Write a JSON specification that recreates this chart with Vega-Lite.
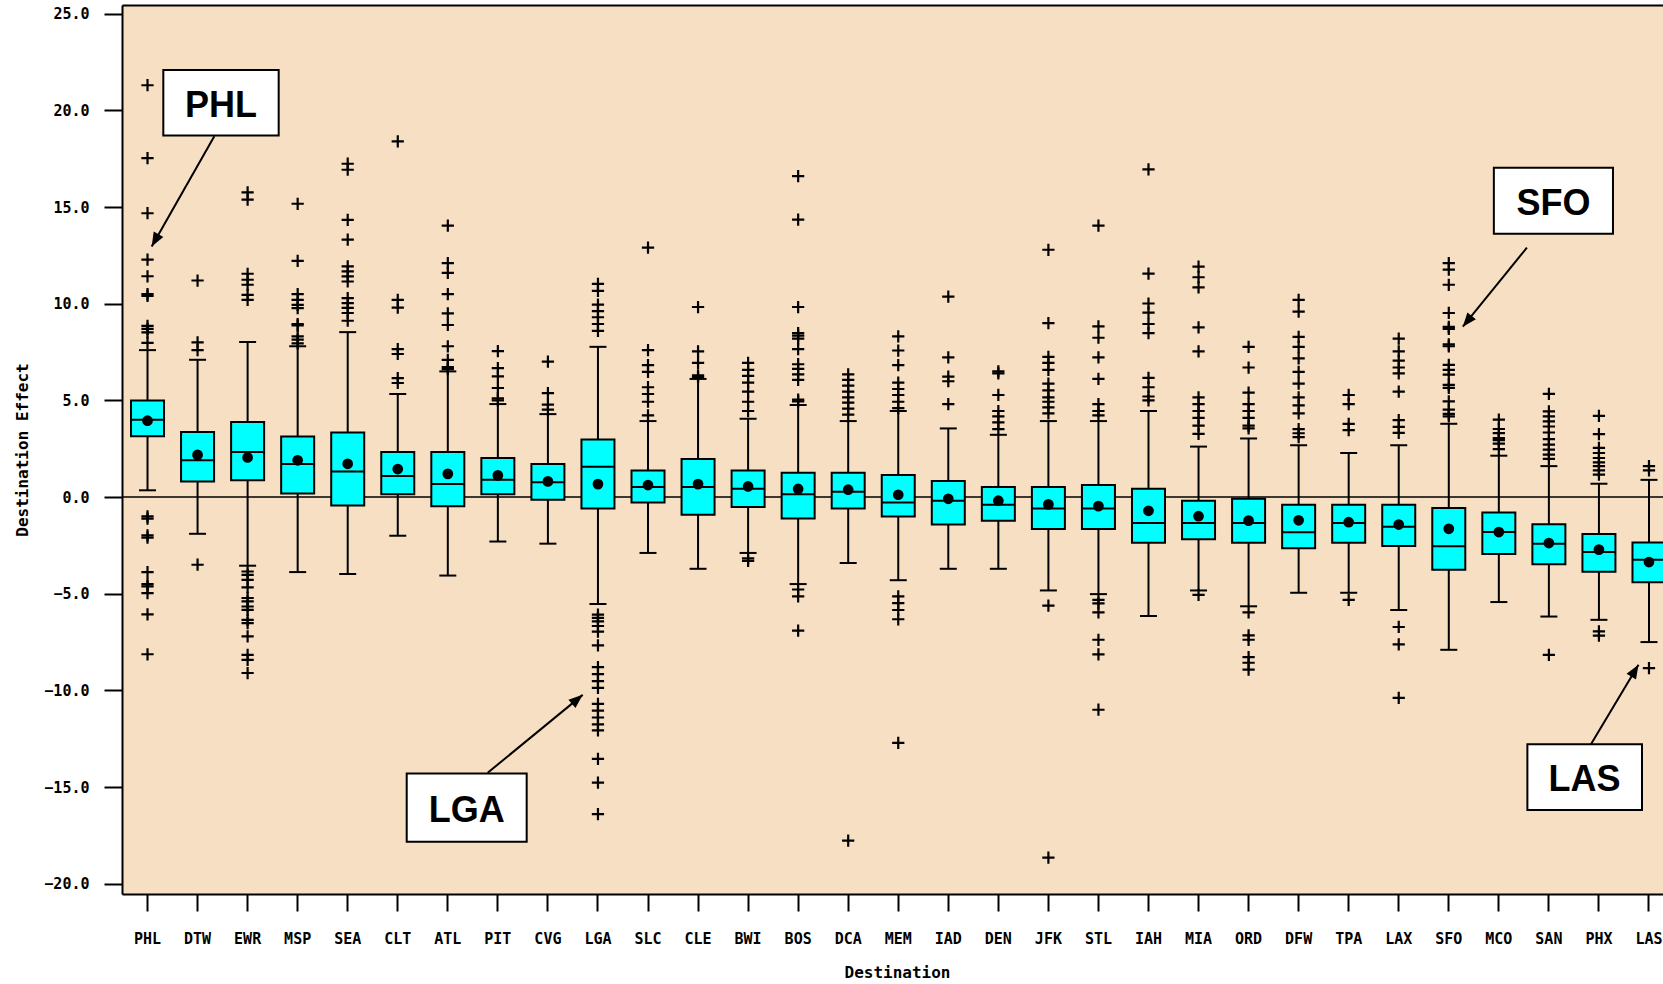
{
  "$schema": "https://vega.github.io/schema/vega-lite/v6.json",
  "width": 1541,
  "height": 889,
  "autosize": "none",
  "padding": {"left": 122, "top": 5, "right": 0, "bottom": 90},
  "background": "white",
  "config": {
    "view": {"fill": "#F7DFC3", "stroke": null},
    "axis": {"grid": false, "domainColor": "black", "tickColor": "black", "labelColor": "black", "titleColor": "black", "labelFont": "DejaVu Sans Mono", "titleFont": "DejaVu Sans Mono", "labelFontWeight": "bold", "titleFontWeight": "bold"}
  },
  "datasets": {
    "boxes": [
      {"dest": "PHL", "lo": 0.35, "q1": 3.15, "median": 4.0, "q3": 5.0, "hi": 7.6, "mean": 3.95},
      {"dest": "DTW", "lo": -1.9, "q1": 0.8, "median": 1.91, "q3": 3.36, "hi": 7.1, "mean": 2.18},
      {"dest": "EWR", "lo": -3.55, "q1": 0.87, "median": 2.33, "q3": 3.88, "hi": 8.02, "mean": 2.05},
      {"dest": "MSP", "lo": -3.88, "q1": 0.18, "median": 1.71, "q3": 3.13, "hi": 7.8, "mean": 1.9},
      {"dest": "SEA", "lo": -3.98, "q1": -0.43, "median": 1.32, "q3": 3.34, "hi": 8.53, "mean": 1.72},
      {"dest": "CLT", "lo": -2.0, "q1": 0.15, "median": 1.09, "q3": 2.33, "hi": 5.33, "mean": 1.45},
      {"dest": "ATL", "lo": -4.06, "q1": -0.48, "median": 0.67, "q3": 2.33, "hi": 6.5, "mean": 1.2},
      {"dest": "PIT", "lo": -2.3, "q1": 0.15, "median": 0.89, "q3": 2.02, "hi": 4.81, "mean": 1.12},
      {"dest": "CVG", "lo": -2.41, "q1": -0.14, "median": 0.77, "q3": 1.71, "hi": 4.29, "mean": 0.81},
      {"dest": "LGA", "lo": -5.53, "q1": -0.59, "median": 1.57, "q3": 2.98, "hi": 7.77, "mean": 0.67},
      {"dest": "SLC", "lo": -2.89, "q1": -0.28, "median": 0.52, "q3": 1.38, "hi": 3.93, "mean": 0.62},
      {"dest": "CLE", "lo": -3.71, "q1": -0.92, "median": 0.52, "q3": 1.97, "hi": 6.11, "mean": 0.67},
      {"dest": "BWI", "lo": -2.89, "q1": -0.52, "median": 0.43, "q3": 1.38, "hi": 4.05, "mean": 0.55},
      {"dest": "BOS", "lo": -4.5, "q1": -1.11, "median": 0.15, "q3": 1.26, "hi": 4.76, "mean": 0.42},
      {"dest": "DCA", "lo": -3.41, "q1": -0.59, "median": 0.27, "q3": 1.26, "hi": 3.93, "mean": 0.38},
      {"dest": "MEM", "lo": -4.3, "q1": -1.01, "median": -0.28, "q3": 1.14, "hi": 4.45, "mean": 0.12},
      {"dest": "IAD", "lo": -3.71, "q1": -1.42, "median": -0.19, "q3": 0.83, "hi": 3.55, "mean": -0.09},
      {"dest": "DEN", "lo": -3.71, "q1": -1.23, "median": -0.4, "q3": 0.52, "hi": 3.22, "mean": -0.19},
      {"dest": "JFK", "lo": -4.83, "q1": -1.65, "median": -0.59, "q3": 0.52, "hi": 3.93, "mean": -0.38},
      {"dest": "STL", "lo": -5.02, "q1": -1.65, "median": -0.59, "q3": 0.62, "hi": 3.93, "mean": -0.47},
      {"dest": "IAH", "lo": -6.15, "q1": -2.36, "median": -1.34, "q3": 0.43, "hi": 4.45, "mean": -0.71},
      {"dest": "MIA", "lo": -4.83, "q1": -2.18, "median": -1.34, "q3": -0.19, "hi": 2.61, "mean": -0.99},
      {"dest": "ORD", "lo": -5.65, "q1": -2.36, "median": -1.34, "q3": -0.09, "hi": 3.03, "mean": -1.22},
      {"dest": "DFW", "lo": -4.95, "q1": -2.65, "median": -1.82, "q3": -0.4, "hi": 2.68, "mean": -1.2},
      {"dest": "TPA", "lo": -4.95, "q1": -2.36, "median": -1.34, "q3": -0.4, "hi": 2.28, "mean": -1.3},
      {"dest": "LAX", "lo": -5.84, "q1": -2.53, "median": -1.53, "q3": -0.4, "hi": 2.68, "mean": -1.42},
      {"dest": "SFO", "lo": -7.9, "q1": -3.76, "median": -2.55, "q3": -0.57, "hi": 3.79, "mean": -1.64},
      {"dest": "MCO", "lo": -5.43, "q1": -2.95, "median": -1.81, "q3": -0.8, "hi": 2.14, "mean": -1.81},
      {"dest": "SAN", "lo": -6.18, "q1": -3.47, "median": -2.42, "q3": -1.4, "hi": 1.6, "mean": -2.38},
      {"dest": "PHX", "lo": -6.35, "q1": -3.86, "median": -2.84, "q3": -1.91, "hi": 0.69, "mean": -2.72},
      {"dest": "LAS", "lo": -7.5, "q1": -4.4, "median": -3.24, "q3": -2.35, "hi": 0.89, "mean": -3.36}
    ],
    "outliers": [
      {"dest": "PHL", "value": 21.3}, {"dest": "PHL", "value": 17.53}, {"dest": "PHL", "value": 14.68}, {"dest": "PHL", "value": 12.28}, {"dest": "PHL", "value": 11.42}, {"dest": "PHL", "value": 10.5}, {"dest": "PHL", "value": 10.4}, {"dest": "PHL", "value": 8.85}, {"dest": "PHL", "value": 8.7}, {"dest": "PHL", "value": 8.52}, {"dest": "PHL", "value": 7.97}, {"dest": "PHL", "value": -1.0}, {"dest": "PHL", "value": -1.12}, {"dest": "PHL", "value": -1.98}, {"dest": "PHL", "value": -2.1}, {"dest": "PHL", "value": -3.88}, {"dest": "PHL", "value": -4.5}, {"dest": "PHL", "value": -4.62}, {"dest": "PHL", "value": -4.97}, {"dest": "PHL", "value": -6.07}, {"dest": "PHL", "value": -8.13},
      {"dest": "DTW", "value": 11.2}, {"dest": "DTW", "value": 8.0}, {"dest": "DTW", "value": 7.6}, {"dest": "DTW", "value": -3.5},
      {"dest": "EWR", "value": 15.76}, {"dest": "EWR", "value": 15.38}, {"dest": "EWR", "value": 11.55}, {"dest": "EWR", "value": 11.24}, {"dest": "EWR", "value": 10.98}, {"dest": "EWR", "value": 10.46}, {"dest": "EWR", "value": 10.2}, {"dest": "EWR", "value": -3.85}, {"dest": "EWR", "value": -4.02}, {"dest": "EWR", "value": -4.28}, {"dest": "EWR", "value": -4.67}, {"dest": "EWR", "value": -5.22}, {"dest": "EWR", "value": -5.4}, {"dest": "EWR", "value": -5.66}, {"dest": "EWR", "value": -5.83}, {"dest": "EWR", "value": -6.35}, {"dest": "EWR", "value": -6.52}, {"dest": "EWR", "value": -7.21}, {"dest": "EWR", "value": -8.16}, {"dest": "EWR", "value": -8.42}, {"dest": "EWR", "value": -9.1},
      {"dest": "MSP", "value": 15.17}, {"dest": "MSP", "value": 12.22}, {"dest": "MSP", "value": 10.5}, {"dest": "MSP", "value": 10.2}, {"dest": "MSP", "value": 9.94}, {"dest": "MSP", "value": 9.77}, {"dest": "MSP", "value": 8.95}, {"dest": "MSP", "value": 8.88}, {"dest": "MSP", "value": 8.31}, {"dest": "MSP", "value": 8.14}, {"dest": "MSP", "value": 7.95},
      {"dest": "SEA", "value": 17.24}, {"dest": "SEA", "value": 16.93}, {"dest": "SEA", "value": 14.34}, {"dest": "SEA", "value": 13.31}, {"dest": "SEA", "value": 11.93}, {"dest": "SEA", "value": 11.67}, {"dest": "SEA", "value": 11.41}, {"dest": "SEA", "value": 11.15}, {"dest": "SEA", "value": 10.29}, {"dest": "SEA", "value": 10.03}, {"dest": "SEA", "value": 9.78}, {"dest": "SEA", "value": 9.52}, {"dest": "SEA", "value": 9.12},
      {"dest": "CLT", "value": 18.4}, {"dest": "CLT", "value": 10.2}, {"dest": "CLT", "value": 9.8}, {"dest": "CLT", "value": 7.65}, {"dest": "CLT", "value": 7.4}, {"dest": "CLT", "value": 6.15}, {"dest": "CLT", "value": 5.9},
      {"dest": "ATL", "value": 14.04}, {"dest": "ATL", "value": 12.1}, {"dest": "ATL", "value": 11.6}, {"dest": "ATL", "value": 10.5}, {"dest": "ATL", "value": 9.5}, {"dest": "ATL", "value": 8.9}, {"dest": "ATL", "value": 7.8}, {"dest": "ATL", "value": 7.1}, {"dest": "ATL", "value": 6.72}, {"dest": "ATL", "value": 6.62},
      {"dest": "PIT", "value": 7.55}, {"dest": "PIT", "value": 6.67}, {"dest": "PIT", "value": 6.24}, {"dest": "PIT", "value": 5.64}, {"dest": "PIT", "value": 5.1}, {"dest": "PIT", "value": 5.0},
      {"dest": "CVG", "value": 7.0}, {"dest": "CVG", "value": 5.38}, {"dest": "CVG", "value": 4.78}, {"dest": "CVG", "value": 4.52},
      {"dest": "LGA", "value": 11.03}, {"dest": "LGA", "value": 10.66}, {"dest": "LGA", "value": 9.95}, {"dest": "LGA", "value": 9.62}, {"dest": "LGA", "value": 9.3}, {"dest": "LGA", "value": 8.95}, {"dest": "LGA", "value": 8.6}, {"dest": "LGA", "value": -6.08}, {"dest": "LGA", "value": -6.25}, {"dest": "LGA", "value": -6.43}, {"dest": "LGA", "value": -6.67}, {"dest": "LGA", "value": -6.96}, {"dest": "LGA", "value": -7.67}, {"dest": "LGA", "value": -8.8}, {"dest": "LGA", "value": -9.16}, {"dest": "LGA", "value": -9.52}, {"dest": "LGA", "value": -9.87}, {"dest": "LGA", "value": -10.7}, {"dest": "LGA", "value": -11.05}, {"dest": "LGA", "value": -11.4}, {"dest": "LGA", "value": -11.76}, {"dest": "LGA", "value": -12.07}, {"dest": "LGA", "value": -13.54}, {"dest": "LGA", "value": -14.77}, {"dest": "LGA", "value": -16.4},
      {"dest": "SLC", "value": 12.9}, {"dest": "SLC", "value": 7.6}, {"dest": "SLC", "value": 6.82}, {"dest": "SLC", "value": 6.47}, {"dest": "SLC", "value": 5.68}, {"dest": "SLC", "value": 5.33}, {"dest": "SLC", "value": 4.93}, {"dest": "SLC", "value": 4.22},
      {"dest": "CLE", "value": 9.83}, {"dest": "CLE", "value": 7.53}, {"dest": "CLE", "value": 6.94}, {"dest": "CLE", "value": 6.3}, {"dest": "CLE", "value": 6.2},
      {"dest": "BWI", "value": 6.94}, {"dest": "BWI", "value": 6.58}, {"dest": "BWI", "value": 6.27}, {"dest": "BWI", "value": 5.92}, {"dest": "BWI", "value": 5.45}, {"dest": "BWI", "value": 4.93}, {"dest": "BWI", "value": 4.45}, {"dest": "BWI", "value": -3.17}, {"dest": "BWI", "value": -3.3},
      {"dest": "BOS", "value": 16.6}, {"dest": "BOS", "value": 14.35}, {"dest": "BOS", "value": 9.83}, {"dest": "BOS", "value": 8.48}, {"dest": "BOS", "value": 8.35}, {"dest": "BOS", "value": 8.19}, {"dest": "BOS", "value": 7.65}, {"dest": "BOS", "value": 6.87}, {"dest": "BOS", "value": 6.63}, {"dest": "BOS", "value": 6.35}, {"dest": "BOS", "value": 6.06}, {"dest": "BOS", "value": 5.04}, {"dest": "BOS", "value": 4.95}, {"dest": "BOS", "value": -4.78}, {"dest": "BOS", "value": -5.14}, {"dest": "BOS", "value": -6.91},
      {"dest": "DCA", "value": 6.35}, {"dest": "DCA", "value": 6.06}, {"dest": "DCA", "value": 5.76}, {"dest": "DCA", "value": 5.45}, {"dest": "DCA", "value": 5.16}, {"dest": "DCA", "value": 4.88}, {"dest": "DCA", "value": 4.57}, {"dest": "DCA", "value": 4.26}, {"dest": "DCA", "value": -17.77},
      {"dest": "MEM", "value": 8.31}, {"dest": "MEM", "value": 7.58}, {"dest": "MEM", "value": 6.82}, {"dest": "MEM", "value": 5.92}, {"dest": "MEM", "value": 5.59}, {"dest": "MEM", "value": 5.28}, {"dest": "MEM", "value": 4.93}, {"dest": "MEM", "value": 4.6}, {"dest": "MEM", "value": -5.14}, {"dest": "MEM", "value": -5.49}, {"dest": "MEM", "value": -5.84}, {"dest": "MEM", "value": -6.32}, {"dest": "MEM", "value": -12.71},
      {"dest": "IAD", "value": 10.37}, {"dest": "IAD", "value": 7.22}, {"dest": "IAD", "value": 6.23}, {"dest": "IAD", "value": 5.99}, {"dest": "IAD", "value": 4.81},
      {"dest": "DEN", "value": 6.5}, {"dest": "DEN", "value": 6.4}, {"dest": "DEN", "value": 5.28}, {"dest": "DEN", "value": 4.45}, {"dest": "DEN", "value": 4.17}, {"dest": "DEN", "value": 3.86}, {"dest": "DEN", "value": 3.51},
      {"dest": "JFK", "value": 12.79}, {"dest": "JFK", "value": 9.0}, {"dest": "JFK", "value": 7.25}, {"dest": "JFK", "value": 6.94}, {"dest": "JFK", "value": 6.58}, {"dest": "JFK", "value": 5.87}, {"dest": "JFK", "value": 5.52}, {"dest": "JFK", "value": 5.16}, {"dest": "JFK", "value": 4.93}, {"dest": "JFK", "value": 4.64}, {"dest": "JFK", "value": 4.33}, {"dest": "JFK", "value": -5.61}, {"dest": "JFK", "value": -18.65},
      {"dest": "STL", "value": 14.04}, {"dest": "STL", "value": 8.83}, {"dest": "STL", "value": 8.24}, {"dest": "STL", "value": 7.22}, {"dest": "STL", "value": 6.11}, {"dest": "STL", "value": 4.81}, {"dest": "STL", "value": 4.45}, {"dest": "STL", "value": 4.22}, {"dest": "STL", "value": -5.32}, {"dest": "STL", "value": -5.5}, {"dest": "STL", "value": -5.96}, {"dest": "STL", "value": -7.38}, {"dest": "STL", "value": -8.14}, {"dest": "STL", "value": -11.0},
      {"dest": "IAH", "value": 16.95}, {"dest": "IAH", "value": 11.56}, {"dest": "IAH", "value": 10.01}, {"dest": "IAH", "value": 9.54}, {"dest": "IAH", "value": 8.95}, {"dest": "IAH", "value": 8.48}, {"dest": "IAH", "value": 6.16}, {"dest": "IAH", "value": 5.68}, {"dest": "IAH", "value": 5.2}, {"dest": "IAH", "value": 5.0},
      {"dest": "MIA", "value": 11.92}, {"dest": "MIA", "value": 11.37}, {"dest": "MIA", "value": 10.85}, {"dest": "MIA", "value": 8.78}, {"dest": "MIA", "value": 7.53}, {"dest": "MIA", "value": 5.16}, {"dest": "MIA", "value": 4.81}, {"dest": "MIA", "value": 4.45}, {"dest": "MIA", "value": 4.1}, {"dest": "MIA", "value": 3.69}, {"dest": "MIA", "value": 3.27}, {"dest": "MIA", "value": -5.06},
      {"dest": "ORD", "value": 7.77}, {"dest": "ORD", "value": 6.7}, {"dest": "ORD", "value": 5.4}, {"dest": "ORD", "value": 4.81}, {"dest": "ORD", "value": 4.45}, {"dest": "ORD", "value": 4.1}, {"dest": "ORD", "value": 3.69}, {"dest": "ORD", "value": 3.55}, {"dest": "ORD", "value": -5.96}, {"dest": "ORD", "value": -7.15}, {"dest": "ORD", "value": -7.38}, {"dest": "ORD", "value": -8.28}, {"dest": "ORD", "value": -8.57}, {"dest": "ORD", "value": -8.92},
      {"dest": "DFW", "value": 10.2}, {"dest": "DFW", "value": 9.59}, {"dest": "DFW", "value": 8.29}, {"dest": "DFW", "value": 7.77}, {"dest": "DFW", "value": 7.17}, {"dest": "DFW", "value": 6.47}, {"dest": "DFW", "value": 5.87}, {"dest": "DFW", "value": 5.16}, {"dest": "DFW", "value": 4.74}, {"dest": "DFW", "value": 4.33}, {"dest": "DFW", "value": 3.51}, {"dest": "DFW", "value": 3.3}, {"dest": "DFW", "value": 3.1},
      {"dest": "TPA", "value": 5.28}, {"dest": "TPA", "value": 4.81}, {"dest": "TPA", "value": 3.79}, {"dest": "TPA", "value": 3.46}, {"dest": "TPA", "value": -5.32},
      {"dest": "LAX", "value": 8.19}, {"dest": "LAX", "value": 7.53}, {"dest": "LAX", "value": 7.06}, {"dest": "LAX", "value": 6.7}, {"dest": "LAX", "value": 6.4}, {"dest": "LAX", "value": 5.45}, {"dest": "LAX", "value": 3.98}, {"dest": "LAX", "value": 3.63}, {"dest": "LAX", "value": 3.32}, {"dest": "LAX", "value": -6.72}, {"dest": "LAX", "value": -7.62}, {"dest": "LAX", "value": -10.39},
      {"dest": "SFO", "value": 12.1}, {"dest": "SFO", "value": 11.76}, {"dest": "SFO", "value": 10.98}, {"dest": "SFO", "value": 9.52}, {"dest": "SFO", "value": 8.8}, {"dest": "SFO", "value": 8.7}, {"dest": "SFO", "value": 7.9}, {"dest": "SFO", "value": 7.8}, {"dest": "SFO", "value": 6.84}, {"dest": "SFO", "value": 6.58}, {"dest": "SFO", "value": 6.33}, {"dest": "SFO", "value": 5.8}, {"dest": "SFO", "value": 5.65}, {"dest": "SFO", "value": 4.95}, {"dest": "SFO", "value": 4.52}, {"dest": "SFO", "value": 4.3}, {"dest": "SFO", "value": 4.17},
      {"dest": "MCO", "value": 4.0}, {"dest": "MCO", "value": 3.52}, {"dest": "MCO", "value": 3.31}, {"dest": "MCO", "value": 3.05}, {"dest": "MCO", "value": 2.95}, {"dest": "MCO", "value": 2.76}, {"dest": "MCO", "value": 2.48},
      {"dest": "SAN", "value": 5.34}, {"dest": "SAN", "value": 4.43}, {"dest": "SAN", "value": 4.17}, {"dest": "SAN", "value": 3.91}, {"dest": "SAN", "value": 3.65}, {"dest": "SAN", "value": 3.34}, {"dest": "SAN", "value": 3.0}, {"dest": "SAN", "value": 2.71}, {"dest": "SAN", "value": 2.45}, {"dest": "SAN", "value": 2.19}, {"dest": "SAN", "value": 1.97}, {"dest": "SAN", "value": -8.16},
      {"dest": "PHX", "value": 4.2}, {"dest": "PHX", "value": 3.26}, {"dest": "PHX", "value": 2.54}, {"dest": "PHX", "value": 2.28}, {"dest": "PHX", "value": 2.02}, {"dest": "PHX", "value": 1.79}, {"dest": "PHX", "value": 1.6}, {"dest": "PHX", "value": 1.38}, {"dest": "PHX", "value": 1.16}, {"dest": "PHX", "value": -6.95}, {"dest": "PHX", "value": -7.17},
      {"dest": "LAS", "value": 1.6}, {"dest": "LAS", "value": 1.38}, {"dest": "LAS", "value": -8.85}
    ],
    "notes": [
      {"label": "PHL", "bx0": 0.316, "bx1": 2.621, "by0": 22.09, "by1": 18.7, "tx": 1.469, "ty": 20.24, "ax0": 1.335, "ay0": 18.66, "ax1": 0.084, "ay1": 12.96},
      {"label": "SFO", "bx0": 26.9, "bx1": 29.28, "by0": 17.03, "by1": 13.62, "tx": 28.09, "ty": 15.18, "ax0": 27.56, "ay0": 12.9, "ax1": 26.28, "ay1": 8.81},
      {"label": "LGA", "bx0": 5.179, "bx1": 7.576, "by0": -14.3, "by1": -17.83, "tx": 6.378, "ty": -16.22, "ax0": 6.797, "ay0": -14.26, "ax1": 8.695, "ay1": -10.23},
      {"label": "LAS", "bx0": 27.57, "bx1": 29.86, "by0": -12.79, "by1": -16.19, "tx": 28.71, "ty": -14.64, "ax0": 28.84, "ay0": -12.79, "ax1": 29.79, "ay1": -8.67}
    ]
  },
  "layer": [
    {
      "layer": [
        {
          "data": {"values": [{}]},
          "mark": {"type": "rule", "color": "black", "strokeWidth": 1.5},
          "encoding": {
            "y": {"datum": 0, "type": "quantitative", "scale": {"domain": [-20.53, 25.45], "nice": false, "zero": false},
              "axis": {"title": "Destination Effect", "values": [-20, -15, -10, -5, 0, 5, 10, 15, 20, 25], "format": ".1f", "tickSize": 18, "tickWidth": 2, "domainWidth": 2, "labelPadding": 15, "labelFontSize": 15, "labelFlush": false, "labelOverlap": false, "labelBound": false, "titleFontSize": 16, "titleX": -99.5, "titleY": 444.5, "titleBaseline": "middle", "titleAngle": -90}}
          }
        },
        {
          "data": {"name": "boxes"},
          "layer": [
            {
              "mark": {"type": "rule", "color": "black", "strokeWidth": 2},
              "encoding": {
                "x": {"field": "dest", "type": "nominal", "sort": null,
                  "scale": {"type": "band", "domain": ["PHL", "DTW", "EWR", "MSP", "SEA", "CLT", "ATL", "PIT", "CVG", "LGA", "SLC", "CLE", "BWI", "BOS", "DCA", "MEM", "IAD", "DEN", "JFK", "STL", "IAH", "MIA", "ORD", "DFW", "TPA", "LAX", "SFO", "MCO", "SAN", "PHX", "LAS"], "paddingInner": 0.5, "paddingOuter": 0.145, "align": 0.896},
                  "axis": {"title": "Destination", "labelAngle": 0, "tickSize": 17, "tickWidth": 2, "domainWidth": 2, "labelPadding": 20, "labelFontSize": 15, "titleFontSize": 16, "titleX": 775, "titleY": 78, "titleBaseline": "middle"}},
                "y": {"field": "lo", "type": "quantitative"},
                "y2": {"field": "hi"}
              }
            },
            {
              "mark": {"type": "tick", "color": "black", "size": 17, "thickness": 2, "opacity": 1},
              "encoding": {"x": {"field": "dest", "type": "nominal"}, "y": {"field": "lo", "type": "quantitative"}}
            },
            {
              "mark": {"type": "tick", "color": "black", "size": 17, "thickness": 2, "opacity": 1},
              "encoding": {"x": {"field": "dest", "type": "nominal"}, "y": {"field": "hi", "type": "quantitative"}}
            },
            {
              "mark": {"type": "bar", "width": 33, "fill": "#00FFFF", "stroke": "black", "strokeWidth": 2},
              "encoding": {"x": {"field": "dest", "type": "nominal"}, "y": {"field": "q1", "type": "quantitative"}, "y2": {"field": "q3"}}
            },
            {
              "mark": {"type": "tick", "color": "black", "size": 33, "thickness": 2, "opacity": 1},
              "encoding": {"x": {"field": "dest", "type": "nominal"}, "y": {"field": "median", "type": "quantitative"}}
            },
            {
              "mark": {"type": "point", "shape": "circle", "filled": true, "color": "black", "size": 115, "opacity": 1},
              "encoding": {"x": {"field": "dest", "type": "nominal"}, "y": {"field": "mean", "type": "quantitative"}}
            }
          ]
        },
        {
          "data": {"name": "outliers"},
          "mark": {"type": "point", "shape": "M-1,0L1,0M0,-1L0,1", "filled": false, "stroke": "black", "strokeWidth": 2.2, "size": 150, "opacity": 1},
          "encoding": {"x": {"field": "dest", "type": "nominal"}, "y": {"field": "value", "type": "quantitative"}}
        }
      ]
    },
    {
      "data": {"name": "notes"},
      "layer": [
        {
          "mark": {"type": "rect", "fill": "white", "stroke": "black", "strokeWidth": 2},
          "encoding": {
            "x": {"field": "bx0", "type": "quantitative", "scale": {"domain": [-0.5095, 30.2795], "nice": false, "zero": false},
              "axis": {"orient": "top", "title": null, "labels": false, "ticks": false, "domain": true, "domainWidth": 2, "grid": false}},
            "x2": {"field": "bx1"},
            "y": {"field": "by0", "type": "quantitative"},
            "y2": {"field": "by1"}
          }
        },
        {
          "mark": {"type": "rule", "color": "black", "strokeWidth": 2},
          "encoding": {
            "x": {"field": "ax0", "type": "quantitative"},
            "x2": {"field": "ax1"},
            "y": {"field": "ay0", "type": "quantitative"},
            "y2": {"field": "ay1"}
          }
        },
        {
          "mark": {"type": "text", "font": "Liberation Sans", "fontWeight": "bold", "fontSize": 36, "align": "center", "baseline": "middle", "color": "black"},
          "encoding": {
            "x": {"field": "tx", "type": "quantitative"},
            "y": {"field": "ty", "type": "quantitative"},
            "text": {"field": "label"}
          }
        },
        {
          "transform": [{"filter": "datum.label == 'PHL'"}],
          "mark": {"type": "point", "shape": "M0,0L-0.55,1.4L0.55,1.4Z", "filled": true, "color": "black", "size": 400, "opacity": 1, "angle": 209},
          "encoding": {"x": {"field": "ax1", "type": "quantitative"}, "y": {"field": "ay1", "type": "quantitative"}}
        },
        {
          "transform": [{"filter": "datum.label == 'SFO'"}],
          "mark": {"type": "point", "shape": "M0,0L-0.55,1.4L0.55,1.4Z", "filled": true, "color": "black", "size": 400, "opacity": 1, "angle": 219},
          "encoding": {"x": {"field": "ax1", "type": "quantitative"}, "y": {"field": "ay1", "type": "quantitative"}}
        },
        {
          "transform": [{"filter": "datum.label == 'LGA'"}],
          "mark": {"type": "point", "shape": "M0,0L-0.55,1.4L0.55,1.4Z", "filled": true, "color": "black", "size": 400, "opacity": 1, "angle": 50},
          "encoding": {"x": {"field": "ax1", "type": "quantitative"}, "y": {"field": "ay1", "type": "quantitative"}}
        },
        {
          "transform": [{"filter": "datum.label == 'LAS'"}],
          "mark": {"type": "point", "shape": "M0,0L-0.55,1.4L0.55,1.4Z", "filled": true, "color": "black", "size": 400, "opacity": 1, "angle": 31},
          "encoding": {"x": {"field": "ax1", "type": "quantitative"}, "y": {"field": "ay1", "type": "quantitative"}}
        }
      ]
    }
  ],
  "resolve": {"scale": {"x": "independent"}}
}
